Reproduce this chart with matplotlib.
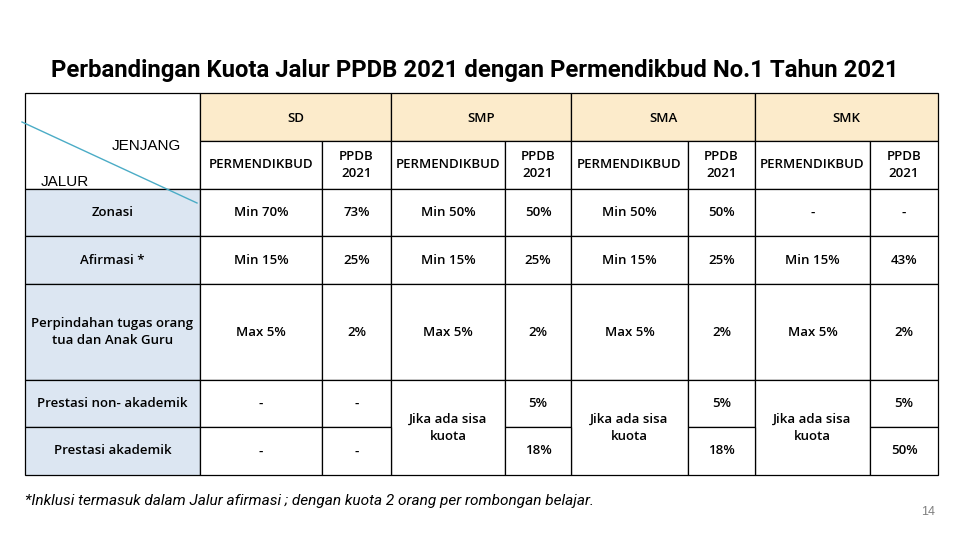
import matplotlib
matplotlib.use('Agg')
import matplotlib.pyplot as plt
from matplotlib.patches import Rectangle

# --- data ---
title = 'Perbandingan Kuota Jalur PPDB 2021 dengan Permendikbud No.1 Tahun 2021'
jenjang = ['SD', 'SMP', 'SMA', 'SMK']
sub_cols = ['PERMENDIKBUD', 'PPDB\n2021']
jalur = ['Zonasi', 'Afirmasi *', 'Perpindahan tugas orang\ntua dan Anak Guru',
         'Prestasi non- akademik', 'Prestasi akademik']
sisa = 'Jika ada sisa\nkuota'
# permendikbud columns (None = merged with the cell above)
sd_perm = ['Min 70%', 'Min 15%', 'Max 5%', '-', '-']
smp_perm = ['Min 50%', 'Min 15%', 'Max 5%', sisa, None]
sma_perm = ['Min 50%', 'Min 15%', 'Max 5%', sisa, None]
smk_perm = ['-', 'Min 15%', 'Max 5%', sisa, None]
sd_ppdb = ['73%', '25%', '2%', '-', '-']
smp_ppdb = ['50%', '25%', '2%', '5%', '18%']
sma_ppdb = ['50%', '25%', '2%', '5%', '18%']
smk_ppdb = ['-', '43%', '2%', '5%', '50%']
footnote = '*Inklusi termasuk dalam Jalur afirmasi ; dengan kuota 2 orang per rombongan belajar.'
page_no = '14'

# --- layout (pixels) ---
col_x = [25, 200, 322, 391, 505, 571, 688, 755, 870, 938]
row_y = [93, 141, 189, 236, 284, 380, 427, 475]
PEACH = '#fcebcb'
BLUE = '#dce6f2'
CELL_FONT = ['Open Sans', 'DejaVu Sans']
FS = 9.5

fig = plt.figure(figsize=(9.6, 5.4), dpi=100)
ax = fig.add_axes([0, 0, 1, 1])
ax.set_xlim(0, 960)
ax.set_ylim(540, 0)
ax.axis('off')


def cell(x0, x1, y0, y1, text=None, fc='white', dy=0):
    ax.add_patch(Rectangle((x0, y0), x1 - x0, y1 - y0, facecolor=fc,
                           edgecolor='black', linewidth=0.9, zorder=1))
    if text:
        ax.text((x0 + x1) / 2, (y0 + y1) / 2 + dy, text, ha='center',
                va='center', fontsize=FS, family=CELL_FONT,
                weight='semibold', linespacing=1.4, zorder=3)


# corner cell
cell(col_x[0], col_x[1], row_y[0], row_y[2])
ax.plot([22, 197], [122, 203], color='#4bacc6', lw=1.0, zorder=4)
ax.text(146, 146, 'JENJANG', ha='center', va='center', fontsize=11,
        family='Liberation Sans', zorder=3)
ax.text(65, 182, 'JALUR', ha='center', va='center', fontsize=11,
        family='Liberation Sans', zorder=3)

# header rows
for j, name in enumerate(jenjang):
    x0, xm, x1 = col_x[1 + 2 * j], col_x[2 + 2 * j], col_x[3 + 2 * j]
    cell(x0, x1, row_y[0], row_y[1], name, fc=PEACH, dy=2)
    cell(x0, xm, row_y[1], row_y[2], sub_cols[0])
    cell(xm, x1, row_y[1], row_y[2], sub_cols[1])

# body
perms = [sd_perm, smp_perm, sma_perm, smk_perm]
ppdbs = [sd_ppdb, smp_ppdb, sma_ppdb, smk_ppdb]
for i, name in enumerate(jalur):
    y0, y1 = row_y[2 + i], row_y[3 + i]
    cell(col_x[0], col_x[1], y0, y1, name, fc=BLUE)
    for j in range(len(jenjang)):
        x0, xm, x1 = col_x[1 + 2 * j], col_x[2 + 2 * j], col_x[3 + 2 * j]
        v = perms[j][i]
        if v is not None:
            # merge down when the next row is empty
            ye = y1
            if i + 1 < len(jalur) and perms[j][i + 1] is None:
                ye = row_y[4 + i]
            cell(x0, xm, y0, ye, v)
        cell(xm, x1, y0, y1, ppdbs[j][i])

ax.text(475, 71, title, ha='center', va='center', fontsize=17.2,
        family='Roboto', weight='bold', zorder=3)
ax.text(25, 501, footnote, ha='left', va='center', fontsize=11.05,
        style='italic', family='Roboto', color='black', zorder=3)
ax.text(928, 512, page_no, ha='center', va='center', fontsize=9,
        color='#7f7f7f', family='Liberation Sans', zorder=3)

fig.savefig('out.png', dpi=100)
